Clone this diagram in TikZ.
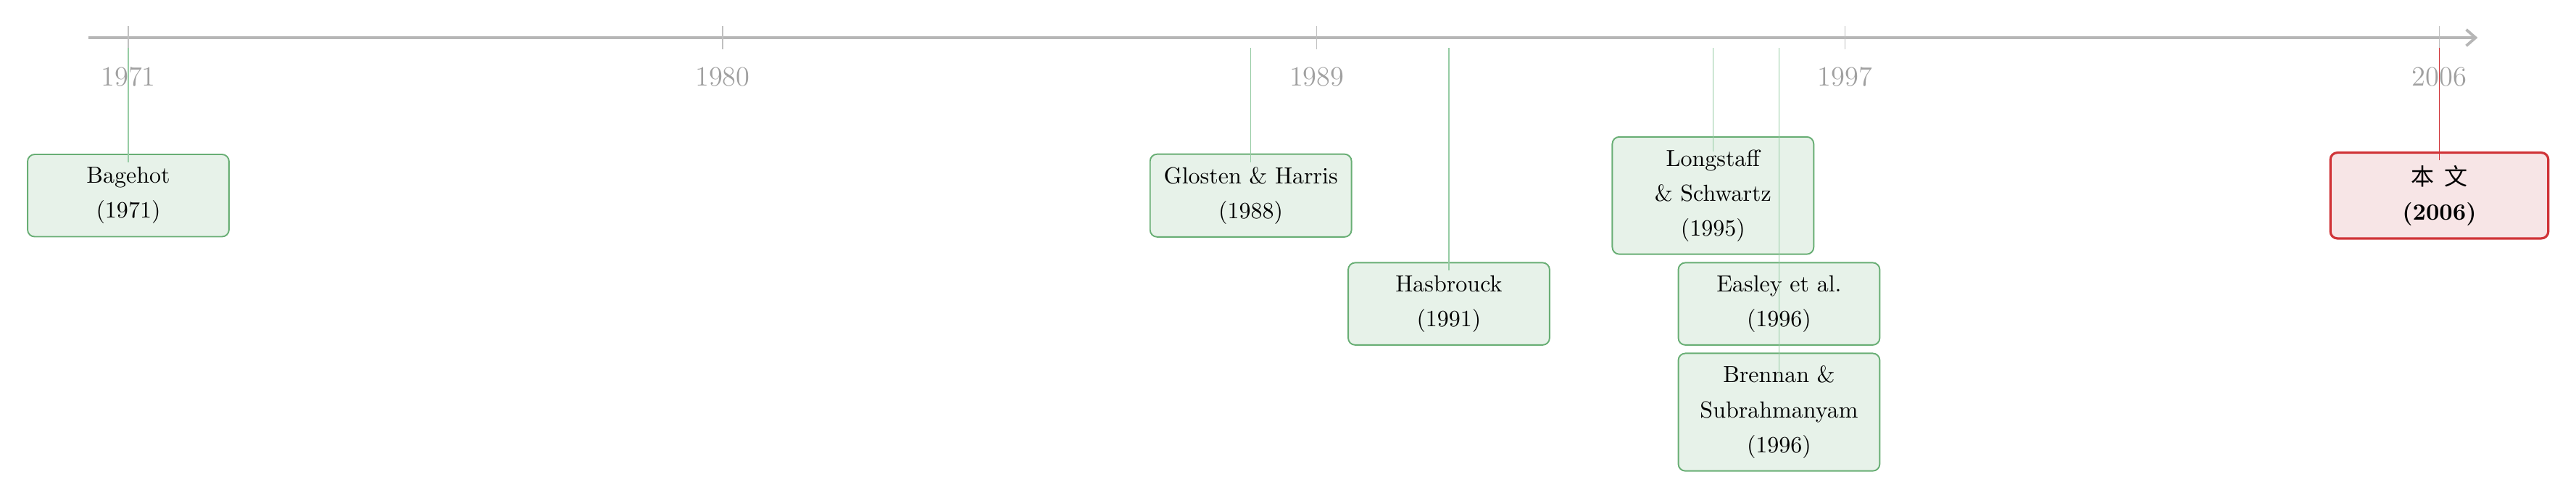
\documentclass[tikz,border=0pt]{standalone}
\usepackage{fontspec}
\newfontfamily\cjk{Noto Sans CJK SC}
\usepackage{tikz}
\usetikzlibrary{positioning,arrows.meta}
\definecolor{tlAxis}{RGB}{182,182,182}
\definecolor{tlTick}{RGB}{192,192,192}
\definecolor{tlYear}{RGB}{160,160,160}
\definecolor{tlGreen}{RGB}{104,174,116}
\definecolor{tlGreenFill}{RGB}{231,242,233}
\definecolor{tlStem}{RGB}{150,204,164}
\definecolor{tlRed}{RGB}{208,52,56}
\definecolor{tlRedFill}{RGB}{247,229,230}

\begin{document}
\begin{tikzpicture}[paper/.style={draw=tlGreen, line width=0.6pt, fill=tlGreenFill, rounded corners=3pt, align=center, minimum width=3.05cm, inner ysep=5.5pt},
  ours/.style={paper, draw=tlRed, line width=1pt, fill=tlRedFill, minimum width=3.3cm},
  stem/.style={tlStem, line width=0.5pt},
  year/.style={text=tlYear, font=\large}]
  \useasboundingbox (-1.943,0.571) rectangle (37.07,-6.96);
  % axis with ticks
  \draw[tlAxis, line width=1.2pt, -{Straight Barb[length=4pt,width=7pt]}] (-0.6,0) -- (35.58,0);
  \foreach \x/\yr in {0/1971, 9/1980, 18/1989, 26/1997, 35/2006} {
    \draw[tlTick, line width=0.4pt] (\x,0.176) -- (\x,-0.176);
    \node[year] (y\yr) at (\x,-0.59) {\yr};
  }
  % papers
  \node[paper] (bagehot) at (0,-2.39) {Bagehot\\[3pt](1971)};
  \node[paper] (glosten) at (17,-2.39) {Glosten \& Harris\\[3pt](1988)};
  \node[paper] (hasbrouck) at (20,-4.03) {Hasbrouck\\[3pt](1991)};
  \node[paper] (longstaff) at (24,-2.39) {Longstaff\\[3pt]\& Schwartz\\[3pt](1995)};
  \node[paper] (easley) at (25,-4.03) {Easley et al.\\[3pt](1996)};
  \node[paper] (brennan) at (25,-5.67) {Brennan \&\\[3pt]Subrahmanyam\\[3pt](1996)};
  \node[ours] (thispaper) at (35,-2.39) {{\cjk 本\hspace{0.45em}文}\\[3pt]\textbf{(2006)}};
  % stems
  \coordinate (s1971) at (0,-0.154);
  \coordinate (s1988) at (17,-0.154);
  \coordinate (s1991) at (20,-0.154);
  \coordinate (s1995) at (24,-0.154);
  \coordinate (s1996) at (25,-0.154);
  \coordinate (s2006) at (35,-0.154);
  \draw[stem] (s1971) -- ([yshift=-0.13cm]bagehot.north);
  \draw[stem] (s1988) -- ([yshift=-0.13cm]glosten.north);
  \draw[stem] (s1991) -- ([yshift=-0.13cm]hasbrouck.north);
  \draw[stem] (s1995) -- ([yshift=-0.23cm]longstaff.north);
  \draw[stem] (s1996) -- ([yshift=-0.13cm]easley.north);
  \draw[stem] (s1996) -- ([yshift=-0.37cm]brennan.north);
  \draw[stem, tlRed] (s2006) -- ([yshift=-0.13cm]thispaper.north);
\end{tikzpicture}
\end{document}
